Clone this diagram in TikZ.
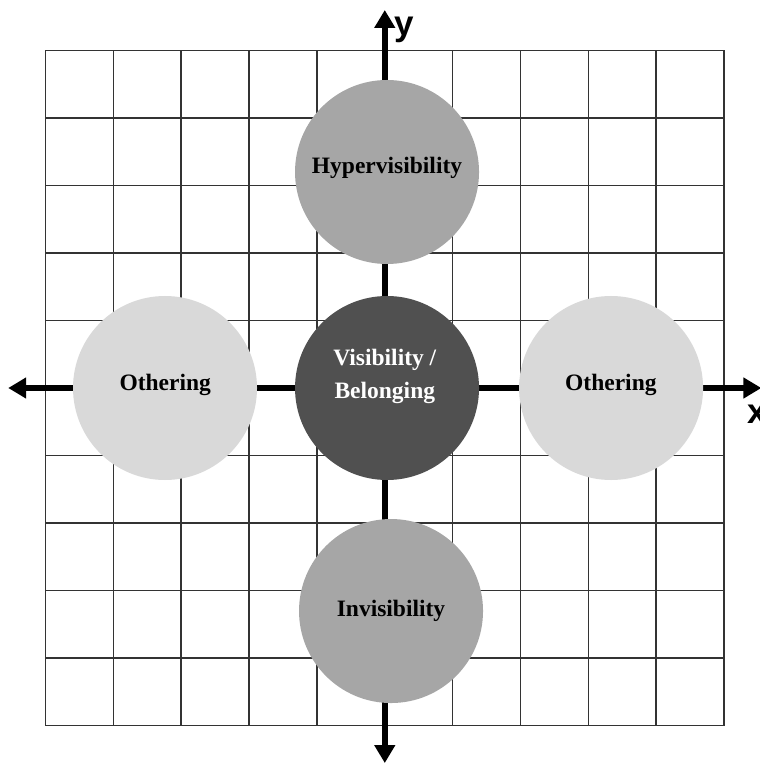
\documentclass[tikz,border=0pt]{standalone}
\usepackage{fontspec}
\setmainfont{Liberation Serif}
\newfontfamily\axisfont{Liberation Sans}
\usetikzlibrary{arrows.meta}

\definecolor{visgray}{HTML}{A6A6A6}
\definecolor{othergray}{HTML}{D9D9D9}
\definecolor{coregray}{HTML}{505050}

\begin{document}
\begin{tikzpicture}[x=67.85pt, y=67.5pt,
    axis/.style={line width=6.5pt,
      {Triangle[width=20pt, length=18pt]}-{Triangle[width=20pt, length=18pt]}},
    blob/.style={circle, minimum size=184pt, inner sep=0pt},
    tag/.style={font=\fontsize{23.5}{33}\selectfont\bfseries, align=center},
    axislabel/.style={font=\axisfont\fontsize{35}{35}\selectfont\bfseries}]
  \useasboundingbox (-5.671, -5.585) rectangle (5.516, 5.748);

  % Grid
  \draw [line width=1.6pt, black!80, xstep=67.85pt, ystep=67.5pt] (-5, -5) grid (5, 5);

  % Abscissa and ordinate
  \coordinate (xLeft) at (-5.55, 0);
  \coordinate (xRight) at (5.55, 0);
  \coordinate (yBottom) at (0, -5.556);
  \coordinate (yTop) at (0, 5.6);
  \draw [axis] (xLeft) -- (xRight);
  \draw [axis] (yBottom) -- (yTop);
  \node [axislabel] (yLabel) at (0.29, 5.30) {y};
  \node [axislabel] (xLabel) at (5.494, -0.385) {x};

  % Hypervisibility, above
  \node [blob, fill=visgray] (hyper) at (0.033, 3.2) {};
  \node [tag, anchor=base] (hyperText) at (0.033, 3.185) {Hypervisibility};

  % Othering, left and right
  \node [blob, fill=othergray] (otherLeft) at (-3.239, 0) {};
  \node [tag, anchor=base] (otherLeftText) at (-3.236, -0.04) {Othering};
  \node [blob, fill=othergray] (otherRight) at (3.335, 0) {};
  \node [tag, anchor=base] (otherRightText) at (3.332, -0.04) {Othering};

  % Visibility / belonging, centre
  \node [blob, fill=coregray] (core) at (0.033, 0) {};
  \node [tag, white] (coreText) at (0.0, 0.178) {Visibility /\\Belonging};

  % Invisibility, below
  \node [blob, fill=visgray] (invis) at (0.092, -3.304) {};
  \node [tag, anchor=base] (invisText) at (0.092, -3.388) {Invisibility};
\end{tikzpicture}
\end{document}
